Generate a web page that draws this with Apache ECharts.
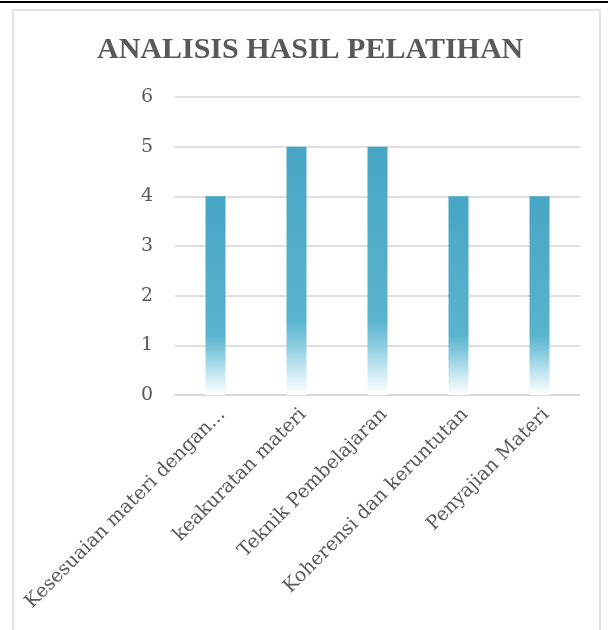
<!DOCTYPE html>
<html>
<head>
<meta charset="utf-8">
<script src="https://cdn.jsdelivr.net/npm/echarts@6/dist/echarts.min.js"></script>
<style>
  html, body { margin: 0; padding: 0; background: #fff; }
  #chart { width: 608px; height: 630px; }
</style>
</head>
<body>
<div id="chart"></div>
<script>
// data
const categories = [
  'Kesesuaian materi dengan...',
  'keakuratan materi',
  'Teknik Pembelajaran',
  'Koherensi dan keruntutan',
  'Penyajian Materi'
]
const scores = [4, 5, 5, 4, 4]
const titleText = 'ANALISIS HASIL PELATIHAN'

const serif = '"DejaVu Serif", "Liberation Serif", serif'

const c = echarts.init(document.getElementById('chart'))
c.setOption({
  backgroundColor: '#fff',
  animation: false,
  title: {
    text: titleText,
    left: 92,
    top: 30,
    textStyle: {
      color: '#595959',
      fontFamily: '"Liberation Serif", serif',
      fontWeight: 'bold',
      fontSize: 30
    }
  },
  graphic: [
    {
      type: 'line',
      shape: { x1: 0, y1: 2, x2: 608, y2: 2 },
      style: { stroke: '#000', lineWidth: 2 }
    },
    {
      type: 'rect',
      shape: { x: 13, y: 10, width: 587, height: 640 },
      style: { fill: 'none', stroke: '#d9d9d9', lineWidth: 1.5 }
    }
  ],
  grid: {
    left: 175,
    right: 28,
    top: 97,
    bottom: 235
  },
  xAxis: {
    type: 'category',
    data: categories,
    axisTick: { show: false },
    axisLine: { lineStyle: { color: '#d4d4d4', width: 1.5 } },
    axisLabel: {
      interval: 0,
      rotate: 45,
      margin: 10,
      verticalAlign: 'top',
      color: '#595959',
      fontFamily: serif,
      fontSize: 19
    }
  },
  yAxis: {
    type: 'value',
    min: 0,
    max: 6,
    interval: 1,
    axisLine: { show: false },
    axisTick: { show: false },
    splitLine: { lineStyle: { color: '#d4d4d4', width: 1.5 } },
    axisLabel: {
      margin: 22,
      color: '#595959',
      fontFamily: serif,
      fontSize: 19
    }
  },
  series: [
    {
      type: 'bar',
      data: scores,
      barWidth: 20,
      itemStyle: {
        color: new echarts.graphic.LinearGradient(0, 0, 0, 1, [
          { offset: 0, color: '#47a6c5' },
          { offset: 0.7, color: '#5ab3cd' },
          { offset: 0.8, color: '#8bcde0' },
          { offset: 0.9, color: '#c8e8f2' },
          { offset: 1, color: '#ffffff' }
        ])
      }
    }
  ]
})
</script>
</body>
</html>
